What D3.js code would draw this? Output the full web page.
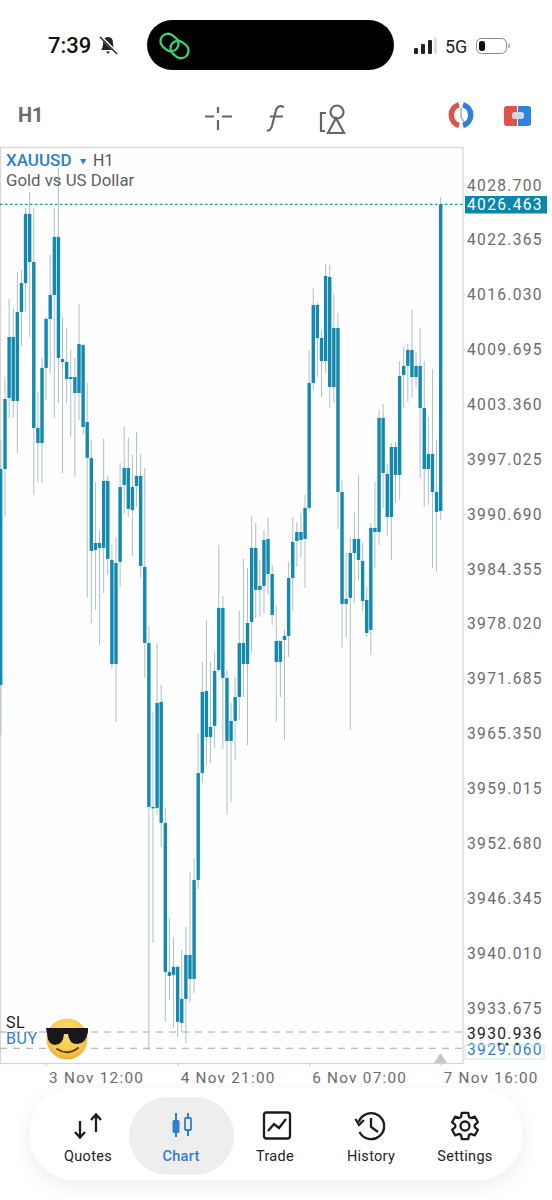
<!DOCTYPE html>
<html>
<head>
<meta charset="utf-8">
<script src="https://cdn.jsdelivr.net/npm/d3@7"></script>
<style>
html,body{margin:0;padding:0;background:#fff;}
svg{display:block;font-family:Roboto,"Liberation Sans",sans-serif;}
</style>
</head>
<body>
<svg id="c" width="552" height="1200"></svg>
<script>
const open=[3970.97,3995.91,4004.11,4011.15,4003.76,4014.04,4017.38,4025.36,4019.81,4000.65,3998.91,4007.58,4013.23,4016.00,4022.70,4008.61,4008.27,4006.53,4006.53,4004.68,4010.23,4001.34,3997.19,3986.56,3987.37,3986.80,3994.52,3985.41,3973.40,3985.18,3994.06,3996.03,3991.18,3993.95,3995.11,3984.60,3975.82,3956.89,3956.78,3969.02,3955.04,3937.84,3937.49,3938.42,3931.95,3934.73,3939.80,3937.03,3948.46,3960.81,3970.28,3964.97,3966.25,3972.71,3979.87,3971.79,3964.51,3966.82,3969.59,3975.82,3973.40,3978.25,3986.80,3981.95,3982.41,3987.83,3983.79,3976.05,3973.63,3976.17,3976.64,3983.33,3987.60,3988.64,3987.83,3991.42,4005.84,4014.85,4011.04,4008.38,4018.08,4005.38,4012.20,3993.26,3980.33,3981.03,3986.21,3987.83,3985.29,3980.79,3977.33,3988.64,3988.64,4001.81,3995.34,3990.37,3998.45,3995.22,4006.76,4007.81,4009.65,4006.53,4007.81,4002.96,3995.91,3997.65,3993.26,3991.06];
const high=[3999.26,4006.53,4015.54,4014.51,4018.66,4018.89,4026.05,4027.90,4026.05,4004.80,4008.73,4013.46,4020.62,4026.05,4030.67,4013.46,4012.20,4009.65,4008.73,4014.97,4010.35,4005.84,3999.26,3994.41,3988.87,3999.38,3995.11,3987.14,3988.06,3996.60,4000.76,3999.50,3997.53,4000.19,3997.65,3996.03,3977.79,3967.86,3975.82,3970.97,3956.78,3944.08,3941.88,3938.65,3940.38,3943.04,3949.39,3951.01,3965.43,3973.63,3978.48,3973.63,3974.79,3987.14,3981.26,3972.71,3968.90,3971.90,3979.52,3985.52,3984.49,3990.49,3989.68,3985.41,3988.87,3990.26,3984.83,3980.10,3976.05,3977.33,3985.18,3990.37,3989.80,3990.83,3992.91,4009.65,4016.81,4015.08,4011.96,4019.58,4019.46,4016.12,4013.92,3994.64,3986.21,3988.06,3990.95,3995.22,3987.37,3982.29,3989.68,3994.41,4002.73,4003.42,3996.49,3998.91,3999.03,4008.38,4010.00,4010.35,4014.27,4009.42,4012.20,4008.38,4001.92,4007.46,3999.26,4027.31];
const low=[3965.20,3990.37,4001.81,4001.81,3997.76,4010.12,4014.04,4011.15,3992.91,3994.41,3994.29,4003.88,4006.99,4001.81,4003.53,3995.45,4003.53,3999.61,3994.99,4001.57,3999.84,3981.03,3978.13,3979.64,3975.59,3981.60,3983.67,3972.82,3966.71,3982.29,3990.72,3990.37,3985.87,3991.53,3983.33,3971.79,3928.84,3941.19,3955.97,3952.27,3932.07,3934.61,3931.38,3930.34,3930.92,3929.64,3934.38,3935.42,3947.42,3959.66,3961.74,3961.97,3963.71,3972.48,3963.59,3955.97,3957.47,3962.32,3966.94,3969.59,3964.05,3974.79,3978.72,3978.83,3979.29,3981.37,3977.90,3966.71,3969.59,3964.63,3974.21,3979.52,3984.60,3985.64,3982.18,3991.18,4005.03,4006.53,4004.22,4006.99,4002.96,4003.53,3988.99,3975.25,3976.52,3965.78,3980.44,3983.10,3979.41,3976.52,3974.44,3984.49,3987.14,3991.42,3988.18,3985.41,3991.99,3992.34,4002.96,4003.65,4004.11,4005.38,3994.87,3991.53,3991.76,3984.49,3984.02,3990.03];
const close=[3995.91,4003.99,4011.15,4003.76,4014.04,4017.38,4025.36,4019.81,4000.65,3998.91,4007.58,4013.23,4016.00,4022.70,4008.73,4008.27,4006.30,4006.30,4004.68,4010.35,4000.76,3997.19,3986.44,3987.37,3986.80,3994.52,3985.52,3973.40,3985.06,3993.83,3996.03,3991.30,3993.83,3995.11,3984.72,3975.82,3956.89,3956.78,3968.90,3955.04,3937.84,3937.38,3938.42,3932.07,3934.73,3939.80,3937.03,3948.46,3960.81,3970.17,3964.97,3966.13,3972.59,3979.87,3971.79,3964.51,3966.82,3969.59,3975.82,3973.40,3978.13,3986.80,3981.95,3982.41,3987.72,3983.79,3979.06,3973.63,3976.05,3976.64,3983.33,3987.49,3988.64,3987.72,3991.42,4005.84,4014.85,4011.04,4008.38,4018.20,4005.38,4012.20,3993.26,3980.33,3980.91,3986.21,3987.83,3985.41,3980.67,3976.98,3989.11,3989.11,4001.81,3995.45,3990.37,3998.45,3995.22,4006.65,4007.81,4009.65,4006.53,4007.81,4002.96,3995.91,3997.65,3993.26,3990.95,4026.46];
const priceTicks=[4028.700,4022.365,4016.030,4009.695,4003.360,3997.025,3990.690,3984.355,3978.020,3971.685,3965.350,3959.015,3952.680,3946.345,3940.010,3933.675];
const timeTickBars=[11,43,75,107];
const timeTickLabels=["3 Nov 12:00","4 Nov 21:00","6 Nov 07:00","7 Nov 16:00"];
const currentPrice=4026.463, slPrice=3930.936, buyPrice=3929.060;
const tabs=["Quotes","Chart","Trade","History","Settings"];

const svg=d3.select("#c");
const FRAME={l:0,r:463,t:147,b:1063};
const x=d3.scaleLinear().domain([0,107]).range([0.9,440.7]);
const y=d3.scaleLinear().domain([4028.7,3933.675]).range([185,1008]);
const fmt=d3.format(".3f");
const TEAL="#1389ad",GREY="#6b6b6b",BLUE="#2f80c8";

svg.append("rect").attr("width",552).attr("height",1200).attr("fill","#fff");
svg.append("rect").attr("x",0.5).attr("y",FRAME.t+.5).attr("width",FRAME.r-.5).attr("height",FRAME.b-FRAME.t)
  .attr("fill","#fefefe").attr("stroke","#d6d6d6").attr("stroke-width",1.2);

// chart
const bars=d3.range(open.length);
const plot=svg.append("g");
plot.selectAll("line.wick").data(bars).join("line").attr("class","wick")
  .attr("x1",i=>x(i)).attr("x2",i=>x(i))
  .attr("y1",i=>y(high[i])).attr("y2",i=>Math.min(y(low[i]),FRAME.b-13))
  .attr("stroke","#abc1c8").attr("stroke-width",1);
plot.selectAll("rect.body").data(bars).join("rect").attr("class","body")
  .attr("x",i=>x(i)-1.7).attr("width",3.4)
  .attr("y",i=>Math.min(y(open[i]),y(close[i])))
  .attr("height",i=>Math.max(Math.abs(y(open[i])-y(close[i])),1.5))
  .attr("fill",TEAL);
svg.select("rect.body").attr("x",0).attr("width",2.4);

// level lines
svg.append("line").attr("x1",0).attr("x2",FRAME.r).attr("y1",y(currentPrice)).attr("y2",y(currentPrice))
  .attr("stroke","#1f8f9a").attr("stroke-width",1.2).attr("stroke-dasharray","2.5 2.5");
[slPrice,buyPrice].forEach(p=>svg.append("line").attr("x1",0).attr("x2",FRAME.r).attr("y1",y(p)+.3).attr("y2",y(p)+.3)
  .attr("stroke","#a4a9ad").attr("stroke-width",1).attr("stroke-dasharray","7 6"));

// price axis
const yAxis=d3.axisRight(y).tickValues(priceTicks).tickFormat(fmt).tickSize(2).tickPadding(2);
const gy=svg.append("g").attr("transform",`translate(${FRAME.r},0)`).call(yAxis);
gy.select(".domain").remove();
gy.selectAll("line").attr("stroke","#d0d0d0");
gy.selectAll("text").attr("font-size",15.6).attr("letter-spacing",1.3).attr("fill",GREY).attr("font-family","Roboto");

// time axis
const xAxis=d3.axisBottom(x).tickValues(timeTickBars).tickFormat((d,i)=>timeTickLabels[i]).tickSize(3);
const gx=svg.append("g").attr("transform",`translate(0,${FRAME.b})`).call(xAxis);
gx.select(".domain").remove();
gx.selectAll("line").attr("stroke","#c8c8c8");
gx.selectAll("text").attr("font-size",15.3).attr("letter-spacing",1.25).attr("fill",GREY)
  .attr("text-anchor","start").attr("x",2.5).attr("y",5).attr("dy","0.95em").attr("font-family","Roboto");

// current price label
svg.append("rect").attr("x",465).attr("y",196).attr("width",82).attr("height",17.5).attr("fill","#0a87ab");
const T=(tx,ty,s,o={})=>svg.append("text").attr("x",tx).attr("y",ty).text(s)
  .attr("font-size",o.size||15.6).attr("fill",o.fill||GREY).attr("font-weight",o.weight||400)
  .attr("text-anchor",o.anchor||"start").attr("letter-spacing",o.ls||0);
T(467,210,fmt(currentPrice),{fill:"#fff",ls:1.3});
T(467,1039,fmt(slPrice),{fill:"#222",ls:1.3});
T(467,1055,fmt(buyPrice),{fill:BLUE,ls:1.3});
svg.append("rect").attr("x",465).attr("y",1045).attr("width",79).attr("height",14).attr("fill","none").attr("stroke","#cfe0ee");
[499,507,517].forEach(d=>svg.append("circle").attr("cx",d).attr("cy",1044).attr("r",1.6).attr("fill","#444"));
svg.append("path").attr("d","M440.5 1053 L447 1063 L434 1063 Z").attr("fill","#c6c6c6");

// chart labels
T(6,166,"XAUUSD",{fill:BLUE,size:17,weight:500});
svg.append("path").attr("d","M80 159 L86.5 159 L83.2 164.5 Z").attr("fill",BLUE);
T(93,166,"H1",{fill:"#555",size:16});
T(6,186,"Gold vs US Dollar",{fill:"#5f5f5f",size:16.8});
T(6,1028,"SL",{fill:"#222",size:16,ls:.6});
T(6,1044,"BUY",{fill:BLUE,size:16,ls:.6});

// emoji
const em=svg.append("g").attr("transform","translate(67,1039)");
const gr=svg.append("defs").append("radialGradient").attr("id","eg").attr("cy","35%").attr("r","70%");
gr.append("stop").attr("offset","0%").attr("stop-color","#fde272");
gr.append("stop").attr("offset","70%").attr("stop-color","#f6c64a");
gr.append("stop").attr("offset","100%").attr("stop-color","#e6a33a");
em.append("circle").attr("r",20.5).attr("fill","url(#eg)");
em.append("path").attr("d","M-21 -11 L21 -11 L21 -7 Q19 5 10 5 Q2 5 1 -5 L-3 -5 Q-4 6 -12 6 Q-19 6 -20 -5 Z").attr("fill","#17171c");
em.append("path").attr("d","M-10 10 Q1 17 11 9").attr("fill","none").attr("stroke","#5c3a14").attr("stroke-width",1.8).attr("stroke-linecap","round");

// status bar
T(48,53,"7:39",{fill:"#111",size:22,weight:500});
const bell=svg.append("g").attr("transform","translate(108,45)").attr("fill","#222");
bell.append("path").attr("d","M-7 5 Q-5 3 -5 -2 Q-5 -8 0 -8 Q5 -8 5 -2 Q5 3 7 5 Z M-2 6.5 L2 6.5 L0 9 Z");
bell.append("line").attr("x1",-8).attr("y1",-9).attr("x2",9).attr("y2",8).attr("stroke","#fff").attr("stroke-width",3);
bell.append("line").attr("x1",-8).attr("y1",-8).attr("x2",9).attr("y2",9).attr("stroke","#222").attr("stroke-width",1.5);
svg.append("rect").attr("x",147).attr("y",20).attr("width",247).attr("height",50).attr("rx",25).attr("fill","#000");
const link=svg.append("g").attr("fill","none").attr("stroke","#3ad26e").attr("stroke-width",2.3);
link.append("rect").attr("x",160).attr("y",35).attr("width",19).attr("height",15).attr("rx",7.5).attr("transform","rotate(38 169.5 42.5)");
link.append("rect").attr("x",170).attr("y",42).attr("width",19).attr("height",15).attr("rx",7.5).attr("transform","rotate(38 179.5 49.5)");
const signal=[[414,6],[421,10],[428,14],[434,17]];
signal.forEach((s,i)=>svg.append("rect").attr("x",s[0]).attr("y",54-s[1]).attr("width",i==3?3:4).attr("height",s[1]).attr("rx",1).attr("fill",i==3?"#ddd":"#222"));
T(445,53,"5G",{fill:"#222",size:18});
svg.append("rect").attr("x",476.5).attr("y",38.5).attr("width",30).attr("height",15).attr("rx",5).attr("fill","none").attr("stroke","#888");
svg.append("rect").attr("x",479).attr("y",41).attr("width",6).attr("height",10).attr("rx",2.5).attr("fill","#111");
svg.append("rect").attr("x",508).attr("y",44).attr("width",2).attr("height",4).attr("rx",1).attr("fill","#aaa");

// toolbar
T(18,122,"H1",{fill:GREY,size:20,weight:700});
const tb=svg.append("g").attr("stroke","#666").attr("stroke-width",2.2).attr("fill","none");
tb.append("path").attr("d","M218 107 V113 M218 120 V130 M205 116.5 H214 M222 116.5 H232");
tb.append("path").attr("d","M284 107 Q277 104 275.5 112 L272 126 Q270 132 267 130 M270 116.5 H283");
tb.append("circle").attr("cx",337).attr("cy",112).attr("r",6.5);
tb.append("path").attr("d","M336 118 L344 133 L328 133 Z M326 113 H321 V131 H325");
const dial=svg.append("g").attr("fill","none").attr("stroke-width",5.5);
dial.append("path").attr("d","M459 104.5 A11 11 0 0 0 459 125.5").attr("stroke","#dc5347");
dial.append("path").attr("d","M463 104.5 A11 11 0 0 1 463 125.5").attr("stroke","#2f80dc");
svg.append("path").attr("d","M461 108 V117 L464 122").attr("fill","none").attr("stroke","#9aa").attr("stroke-width",1.4);
svg.append("path").attr("d","M507 106 H517 V126 H507 Q504 126 504 123 V109 Q504 106 507 106 Z").attr("fill","#e0534a");
svg.append("path").attr("d","M518 106 H528 Q531 106 531 109 V123 Q531 126 528 126 H518 Z").attr("fill","#2f83e4");
svg.append("rect").attr("x",512).attr("y",112).attr("width",12).attr("height",7).attr("rx",2.5).attr("fill","#cfd8e2");

// tab bar
const sh=svg.append("defs").append("filter").attr("id","sh").attr("x","-10%").attr("y","-30%").attr("width","120%").attr("height","170%");
sh.append("feDropShadow").attr("dx",0).attr("dy",6).attr("stdDeviation",10).attr("flood-color","#000").attr("flood-opacity",.07);
svg.append("rect").attr("x",30).attr("y",1088).attr("width",492).attr("height",92).attr("rx",44).attr("fill","#fff").attr("filter","url(#sh)");
svg.append("rect").attr("x",129).attr("y",1097).attr("width",105).attr("height",78).attr("rx",39).attr("fill","#eeeeee");
const tabX=[88,181,275,371,465];
tabs.forEach((t,i)=>T(tabX[i],1161,t,{anchor:"middle",size:14.5,fill:i==1?BLUE:"#222",weight:i==1?500:400,ls:.3}));
const ic=svg.append("g").attr("fill","none").attr("stroke","#1c1c1c").attr("stroke-width",2.3);
ic.append("path").attr("d","M80 1121 V1137 M75 1132 L80 1137.5 L85 1132 M96 1132 V1115 M91 1120 L96 1114.5 L101 1120");
svg.append("path").attr("d","M176 1113 V1137").attr("stroke",BLUE).attr("stroke-width",2);
svg.append("rect").attr("x",172.5).attr("y",1120).attr("width",7).attr("height",13).attr("rx",1.5).attr("fill",BLUE);
svg.append("path").attr("d","M188 1113 V1136").attr("stroke",BLUE).attr("stroke-width",2);
svg.append("rect").attr("x",185).attr("y",1118).attr("width",6).attr("height",12).attr("rx",1).attr("fill","#eee").attr("stroke",BLUE).attr("stroke-width",1.8);
ic.append("rect").attr("x",264).attr("y",1112.5).attr("width",26).attr("height",26).attr("rx",2.5);
ic.append("path").attr("d","M268 1131 L274 1124 L279 1128 L286 1119");
ic.append("path").attr("d","M358.8 1122 A13 13 0 1 1 359.5 1132 M355.5 1119 L359 1125 L364 1120 M371 1118 V1127 L378 1132");
const gearPts=d3.range(6).flatMap(k=>{const a=k*Math.PI/3;return [[a-.42,9.8],[a-.24,13.5],[a+.24,13.5],[a+.42,9.8]];});
const gp=d3.lineRadial().angle(d=>d[0]).radius(d=>d[1]).curve(d3.curveLinearClosed);
ic.append("path").attr("transform","translate(465,1126)").attr("stroke-linejoin","round").attr("d",gp(gearPts));
ic.append("circle").attr("cx",465).attr("cy",1126).attr("r",4.5);
</script>
</body>
</html>
